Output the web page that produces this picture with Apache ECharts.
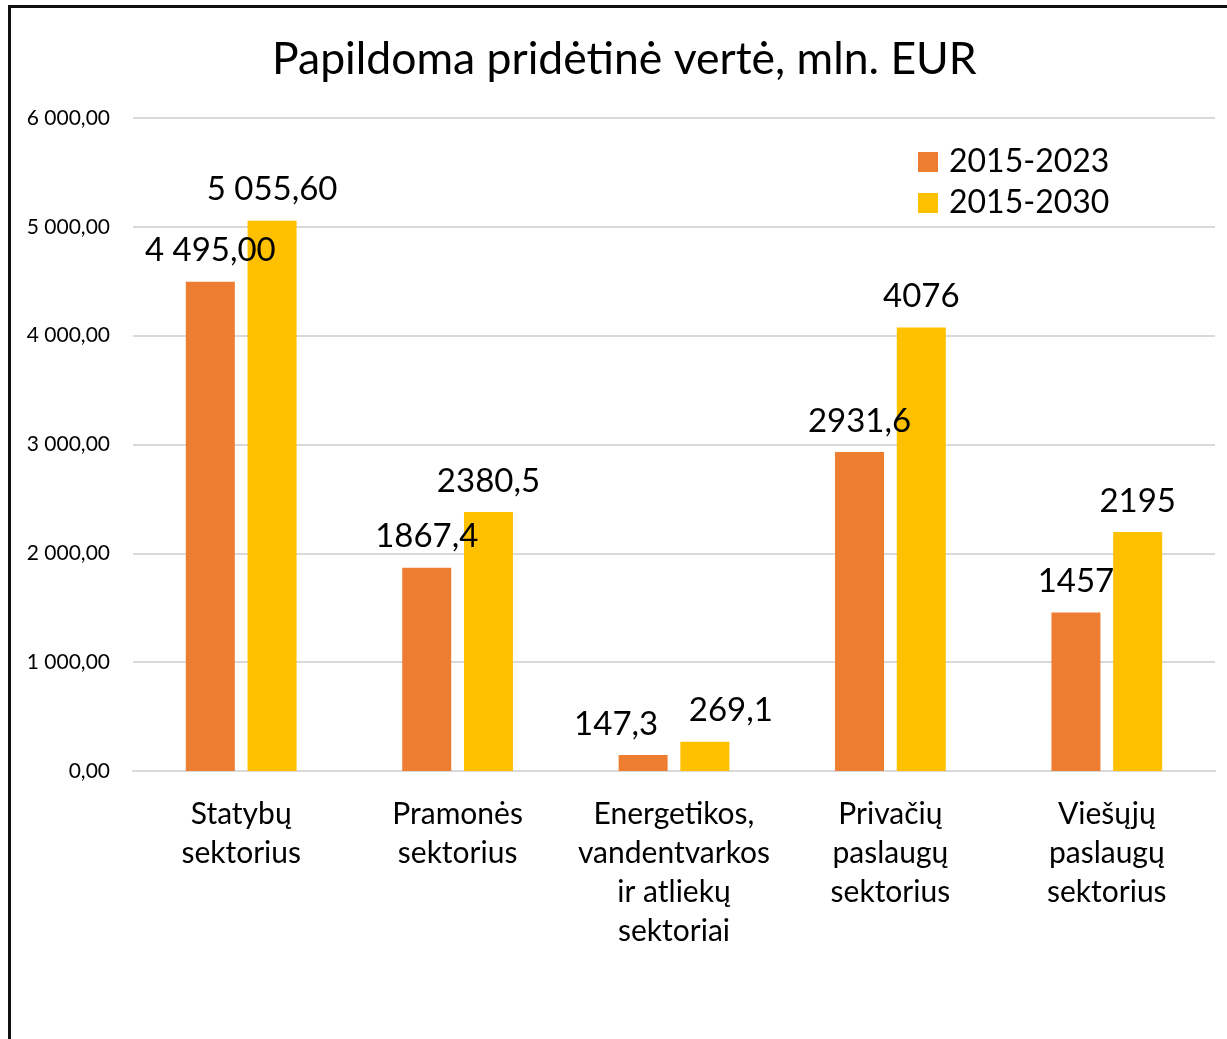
<!DOCTYPE html>
<html>
<head>
<meta charset="utf-8">
<script src="https://cdn.jsdelivr.net/npm/echarts@6/dist/echarts.min.js"></script>
<style>
html,body{margin:0;padding:0;background:#fff;overflow:hidden;}
#chart{position:absolute;left:0;top:0;width:1227px;height:1039px;}
#frame{position:absolute;left:8px;top:5px;width:1400px;height:1200px;border:3px solid #111;pointer-events:none;}
</style>
</head>
<body>
<div id="chart"></div>
<div id="frame"></div>
<script>
var categories = ['Statybų\nsektorius', 'Pramonės\nsektorius', 'Energetikos,\nvandentvarkos\nir atliekų\nsektoriai', 'Privačių\npaslaugų\nsektorius', 'Viešųjų\npaslaugų\nsektorius'];
var seriesNames = ['2015-2023', '2015-2030'];
var values2023 = [4495.00, 1867.4, 147.3, 2931.6, 1457];
var values2030 = [5055.60, 2380.5, 269.1, 4076, 2195];
var labels2023 = ['4 495,00', '1867,4', '147,3', '2931,6', '1457'];
var labels2030 = ['5 055,60', '2380,5', '269,1', '4076', '2195'];
var yTickLabels = ['0,00', '1 000,00', '2 000,00', '3 000,00', '4 000,00', '5 000,00', '6 000,00'];

var FONT = 'Lato';
var labelOffsets2023 = [0, 0, -27, 0, 0];
var labelOffsets2030 = [0, 0, 26, 0, 0];

function buildData(vals, labels, offs) {
  return vals.map(function (v, i) {
    return { value: v, label: { formatter: labels[i], offset: [offs[i], 0] } };
  });
}

var chart = echarts.init(document.getElementById('chart'), null, { renderer: 'canvas' });
chart.setOption({
  animation: false,
  backgroundColor: 'transparent',
  textStyle: { fontFamily: FONT },
  title: {
    text: 'Papildoma pridėtinė vertė, mln. EUR',
    left: 267,
    top: 32,
    textStyle: { fontFamily: FONT, fontSize: 44.5, fontWeight: 'normal', color: '#000' }
  },
  legend: {
    orient: 'vertical',
    left: 918,
    top: 146,
    padding: 0,
    itemWidth: 20,
    itemHeight: 20,
    itemGap: 9,
    icon: 'rect',
    textStyle: { fontFamily: FONT, fontSize: 32, color: '#000', padding: [0, 0, 0, 6] },
    data: seriesNames
  },
  grid: { left: 133, right: 12, top: 118, bottom: 268, containLabel: false },
  xAxis: {
    type: 'category',
    data: categories,
    axisLine: { show: true, lineStyle: { color: '#d9d9d9', width: 2 } },
    axisTick: { show: false },
    axisLabel: {
      interval: 0,
      margin: 24,
      fontFamily: FONT,
      fontSize: 30,
      lineHeight: 39,
      color: '#000'
    }
  },
  yAxis: {
    type: 'value',
    min: 0,
    max: 6000,
    interval: 1000,
    axisLine: { show: false },
    axisTick: { show: false },
    splitLine: { lineStyle: { color: '#d9d9d9', width: 2 } },
    axisLabel: {
      margin: 23,
      fontFamily: FONT,
      fontSize: 21,
      color: '#000',
      formatter: function (v) { return yTickLabels[Math.round(v / 1000)]; }
    }
  },
  series: [
    {
      name: seriesNames[0],
      type: 'bar',
      barWidth: 49,
      barGap: '26%',
      itemStyle: { color: '#ED7D31' },
      label: { show: true, position: 'top', distance: 12, fontFamily: FONT, fontSize: 33, lineHeight: 38, color: '#000' },
      data: buildData(values2023, labels2023, labelOffsets2023)
    },
    {
      name: seriesNames[1],
      type: 'bar',
      barWidth: 49,
      barGap: '26%',
      itemStyle: { color: '#FFC000' },
      label: { show: true, position: 'top', distance: 12, fontFamily: FONT, fontSize: 33, lineHeight: 38, color: '#000' },
      data: buildData(values2030, labels2030, labelOffsets2030)
    }
  ]
});
</script>
</body>
</html>
